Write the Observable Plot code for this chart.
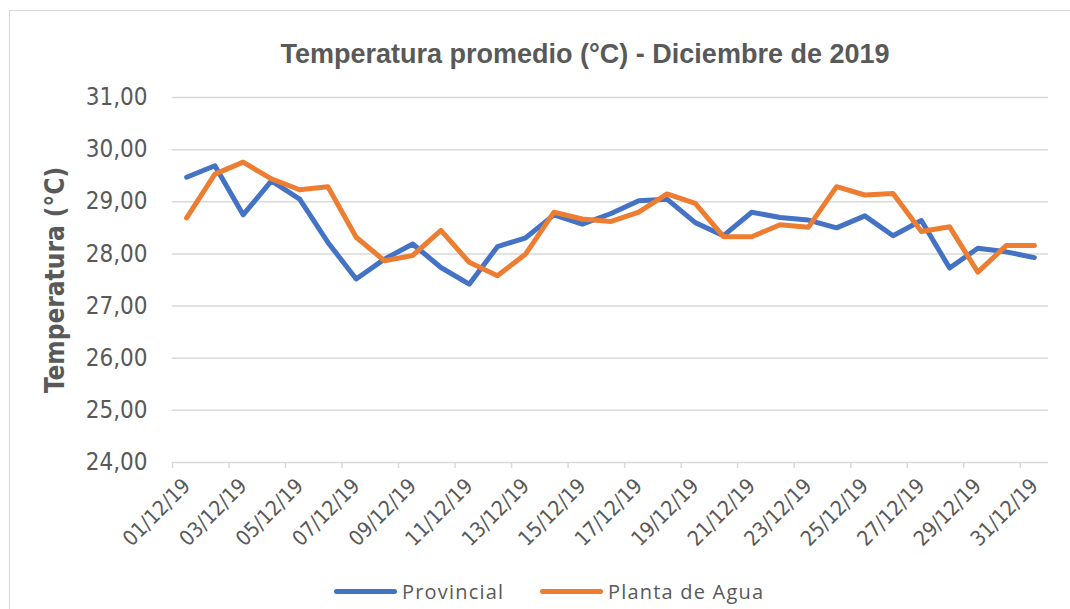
<!DOCTYPE html>
<html>
<head>
<meta charset="utf-8">
<script src="https://cdn.jsdelivr.net/npm/d3@7"></script>
<script src="https://cdn.jsdelivr.net/npm/@observablehq/plot@0.6"></script>
<style>
  html, body { margin: 0; padding: 0; background: #fff; overflow: hidden; }
  #wrap { position: relative; width: 1070px; height: 609px; overflow: hidden; }
  #frame { position: absolute; left: 9px; top: 10px; width: 1100px; height: 640px; border: 1.5px solid #d9d9d9; box-sizing: border-box; }
  #title { position: absolute; left: 0; width: 1170px; top: 39px; line-height: 27px; text-align: center; font: bold 27px "Liberation Sans", Arial, sans-serif; color: #595959; white-space: nowrap; }
  #chart { position: absolute; left: 0; top: 0; }
  .leg { position: absolute; top: 578px; height: 26px; font: 20px "Open Sans", "Noto Sans", sans-serif; letter-spacing: 1.2px; color: #595959; display: flex; align-items: center; }
  .leg span.sw { display: inline-block; width: 63px; height: 5px; border-radius: 3px; margin-right: 5px; }
</style>
</head>
<body>
<div id="wrap">
  <div id="frame"></div>
  <div id="title">Temperatura promedio (°C) - Diciembre de 2019</div>
  <div id="chart"></div>
  <div class="leg" style="left:334px"><span class="sw" style="background:#4472C4"></span>Provincial</div>
  <div class="leg" style="left:540px"><span class="sw" style="background:#ED7D31"></span>Planta de Agua</div>
</div>
<script>
const fechas = ["01/12/19","02/12/19","03/12/19","04/12/19","05/12/19","06/12/19","07/12/19","08/12/19","09/12/19","10/12/19",
  "11/12/19","12/12/19","13/12/19","14/12/19","15/12/19","16/12/19","17/12/19","18/12/19","19/12/19","20/12/19",
  "21/12/19","22/12/19","23/12/19","24/12/19","25/12/19","26/12/19","27/12/19","28/12/19","29/12/19","30/12/19","31/12/19"];
const provincial = [29.47,29.69,28.75,29.40,29.05,28.22,27.52,27.90,28.19,27.74,
  27.42,28.14,28.31,28.75,28.57,28.77,29.02,29.05,28.60,28.35,
  28.80,28.70,28.65,28.50,28.73,28.35,28.64,27.73,28.11,28.04,27.93];
const plantaAgua = [28.69,29.53,29.76,29.44,29.23,29.29,28.32,27.87,27.97,28.45,
  27.84,27.58,28.00,28.80,28.67,28.62,28.80,29.15,28.97,28.33,
  28.33,28.56,28.51,29.29,29.13,29.16,28.43,28.52,27.65,28.16,28.16];
const yTicks = [24,25,26,27,28,29,30,31];
const series = [
  {name: "Provincial", values: provincial, color: "#4472C4"},
  {name: "Planta de Agua", values: plantaAgua, color: "#ED7D31"}
];
const rows = series.flatMap(s => s.values.map((v, i) => ({dia: i + 1, fecha: fechas[i], valor: v, serie: s.name})));
const labelDays = fechas.map((f, i) => i + 1).filter(d => d % 2 === 1);
const boundaryTicks = labelDays.map(d => d - 0.5);
const fmt = d => d.toFixed(2).replace(".", ",");
const narrow = "'Liberation Sans Narrow', 'Arial Narrow', 'DejaVu Sans Condensed', sans-serif";

const chart = Plot.plot({
  width: 1070,
  height: 560,
  marginLeft: 172,
  marginRight: 22,
  marginTop: 97,
  marginBottom: 98,
  style: {background: "transparent", overflow: "visible"},
  x: {type: "linear", domain: [0.5, fechas.length + 0.5]},
  y: {domain: [24, 31]},
  color: {domain: series.map(s => s.name), range: series.map(s => s.color)},
  marks: [
    Plot.gridY(yTicks, {stroke: "#d9d9d9", strokeOpacity: 1, strokeWidth: 1.5}),
    Plot.axisY(yTicks, {tickSize: 0, tickPadding: 25, tickFormat: fmt, fontSize: 24, fill: "#595959", fontFamily: narrow, label: null}),
    Plot.axisX(boundaryTicks, {tickSize: 6, tickFormat: () => "", stroke: "#d9d9d9", strokeWidth: 1.5, label: null}),
    Plot.axisX(labelDays, {tickSize: 0, tickPadding: 20, tickFormat: d => fechas[d - 1], rotate: -45, textAnchor: "end", lineAnchor: "middle", fontSize: 21, fill: "#595959", fontFamily: narrow, label: null}),
    Plot.text(["Temperatura (°C)"], {frameAnchor: "left", textAnchor: "middle", dx: -117, rotate: -90, fontSize: 26, fontWeight: "bold", fill: "#595959", fontFamily: narrow}),
    Plot.lineY(rows, {x: "dia", y: "valor", z: "serie", stroke: "serie", strokeWidth: 5, strokeLinejoin: "round", strokeLinecap: "round"})
  ]
});
document.getElementById("chart").appendChild(chart);
</script>
</body>
</html>
